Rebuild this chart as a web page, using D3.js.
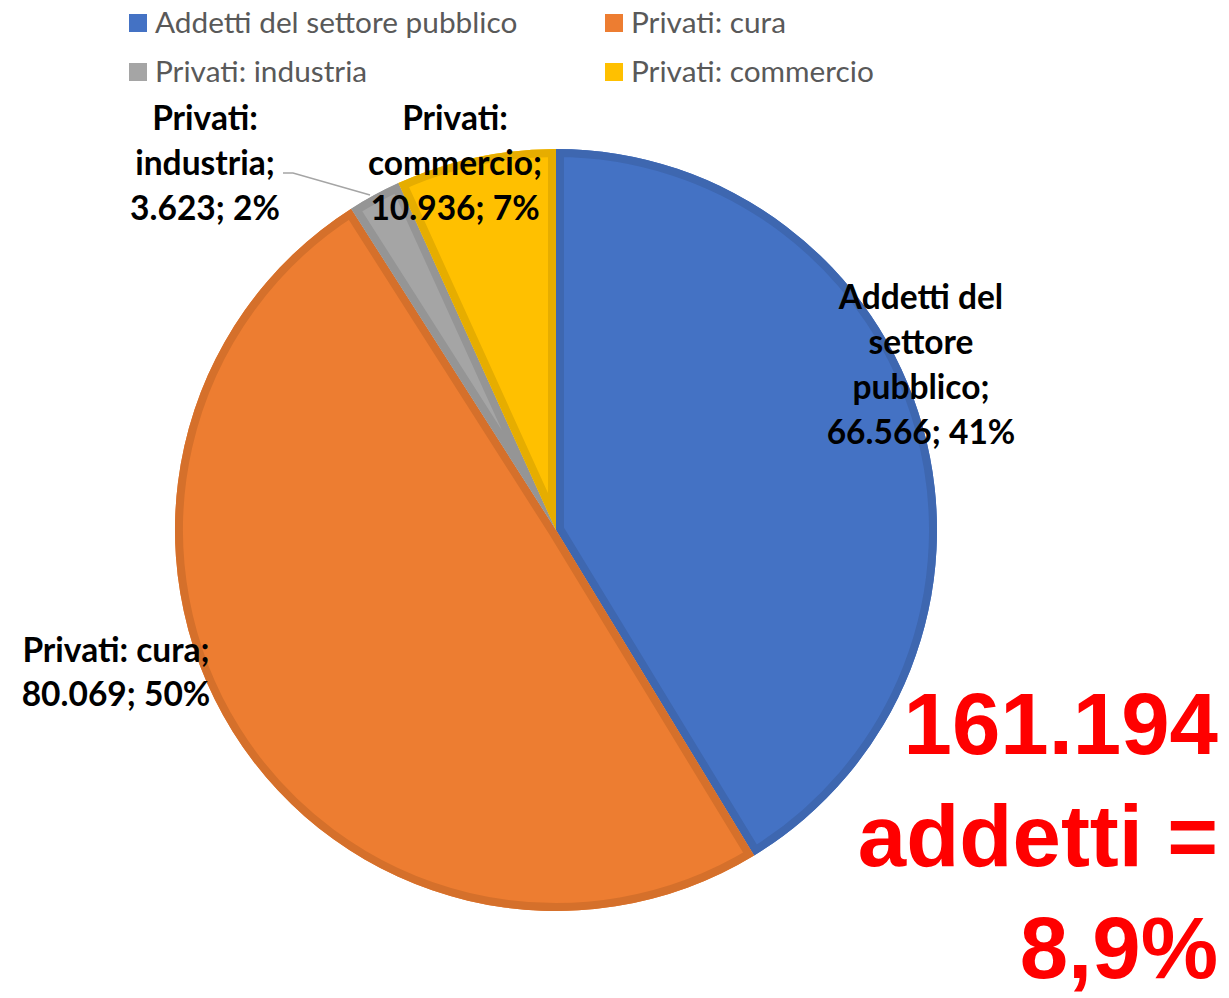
<!DOCTYPE html>
<html><head><meta charset="utf-8">
<script src="https://cdn.jsdelivr.net/npm/d3@7/dist/d3.min.js"></script>
<style>body{margin:0;background:#fff}svg{display:block}</style>
</head><body>
<svg id="c" width="1229" height="998"></svg>
<script>
const categories = ["Addetti del settore pubblico","Privati: cura","Privati: industria","Privati: commercio"];
const values = [66566, 80069, 3623, 10936];
const valueLabels = ["66.566","80.069","3.623","10.936"];
const fills = ["#4472C4","#ED7D31","#A5A5A5","#FFC000"];
const borders = ["#3E67B0","#D5702B","#959595","#E6AD00"];
const totalText = ["161.194","addetti =","8,9%"];

const svg = d3.select("#c");
const cx = 556, cy = 530, R = 381;
const total = d3.sum(values);
const pie = d3.pie().sort(null).value(d=>d)(values);
const arc = d3.arc().innerRadius(0).outerRadius(R);
const g = svg.append("g").attr("transform",`translate(${cx},${cy})`);
const defs = svg.append("defs");
pie.forEach((p,i)=>{
  defs.append("clipPath").attr("id","cl"+i).append("path").attr("d",arc(p));
  g.append("path").attr("d",arc(p)).attr("fill",fills[i]);
  g.append("path").attr("d",arc(p)).attr("fill","none").attr("stroke",borders[i])
   .attr("stroke-width",16).attr("stroke-linejoin","miter").attr("clip-path",`url(#cl${i})`);
});

// legend
const legendPos = [[129,23],[605,23],[129,72],[605,72]];
categories.forEach((c,i)=>{
  const [x,y] = legendPos[i];
  svg.append("rect").attr("x",x).attr("y",y-9).attr("width",18).attr("height",18).attr("fill",fills[i]);
  svg.append("text").attr("x",x+26).attr("y",y).attr("dy","0.35em")
    .attr("font-family","Lato, Carlito, sans-serif").attr("font-size",29.8).attr("fill","#595959").text(c);
});

// data labels
const pct = values.map(v=>Math.round(v/total*100)+"%");
const lblLines = [
  ["Addetti del","settore","pubblico;",valueLabels[0]+"; "+pct[0]],
  ["Privati: cura;",valueLabels[1]+"; "+pct[1]],
  ["Privati:","industria;",valueLabels[2]+"; "+pct[2]],
  ["Privati:","commercio;",valueLabels[3]+"; "+pct[3]]
];
const lblPos = [[921,297],[116,650],[205,118],[455,118]];
const lblStep = [45,44,45,45];
lblLines.forEach((lines,i)=>{
  const t = svg.append("text").attr("text-anchor","middle")
    .attr("font-family","Lato, Carlito, sans-serif").attr("font-weight","bold").attr("font-size",33.5).attr("fill","#000");
  lines.forEach((l,j)=>{
    t.append("tspan").attr("x",lblPos[i][0]).attr("y",lblPos[i][1]+j*lblStep[i]).attr("dy","0.35em").text(l);
  });
});
// leader line for industria
svg.append("polyline").attr("points","283,173 293,173 370,195").attr("fill","none").attr("stroke","#A5A5A5").attr("stroke-width",1.5);

// total text
const tt = svg.append("text").attr("text-anchor","end")
  .attr("font-family","Liberation Sans, Arial, sans-serif").attr("font-weight","bold").attr("font-size",87).attr("fill","#FF0000");
totalText.forEach((l,j)=>{
  tt.append("tspan").attr("x",1218).attr("y",754+j*112).text(l);
});
</script>
</body></html>
